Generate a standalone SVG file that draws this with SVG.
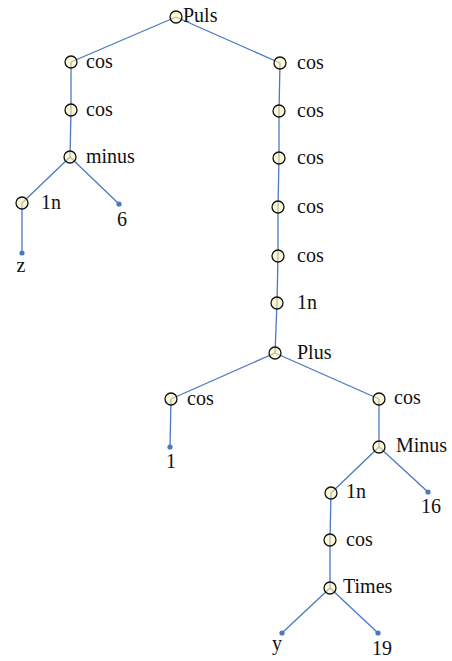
<svg xmlns="http://www.w3.org/2000/svg" width="452" height="661" viewBox="0 0 452 661">
<style>
  .edge { stroke: #4a78c2; stroke-width: 1.3; fill: none; }
  .op { fill: #fff3b0; fill-opacity: 0.55; stroke: #111; stroke-width: 1.3; }
  .leaf { fill: #4a78c2; }
  text { font-family: "Liberation Serif", "Times New Roman", serif; font-size: 20px; fill: #111; }
  .mid { text-anchor: middle; }
</style>
<rect width="452" height="661" fill="#fff"/>
<g id="connectors">
  <line class="edge" x1="176" y1="17" x2="71" y2="62"/>
  <line class="edge" x1="176" y1="17" x2="280" y2="63"/>
  <line class="edge" x1="71" y1="62" x2="71" y2="110"/>
  <line class="edge" x1="71" y1="110" x2="70" y2="157"/>
  <line class="edge" x1="70" y1="157" x2="22" y2="203"/>
  <line class="edge" x1="70" y1="157" x2="119" y2="204"/>
  <line class="edge" x1="22" y1="203" x2="22" y2="253"/>
  <line class="edge" x1="280" y1="63" x2="279" y2="111"/>
  <line class="edge" x1="279" y1="111" x2="279" y2="158"/>
  <line class="edge" x1="279" y1="158" x2="278" y2="207"/>
  <line class="edge" x1="278" y1="207" x2="278" y2="256"/>
  <line class="edge" x1="278" y1="256" x2="277" y2="303"/>
  <line class="edge" x1="277" y1="303" x2="275" y2="353"/>
  <line class="edge" x1="275" y1="353" x2="171" y2="399"/>
  <line class="edge" x1="275" y1="353" x2="379" y2="399"/>
  <line class="edge" x1="171" y1="399" x2="170" y2="447"/>
  <line class="edge" x1="379" y1="399" x2="379" y2="447"/>
  <line class="edge" x1="379" y1="447" x2="331" y2="493"/>
  <line class="edge" x1="379" y1="447" x2="428" y2="492"/>
  <line class="edge" x1="331" y1="493" x2="330" y2="540"/>
  <line class="edge" x1="330" y1="540" x2="330" y2="588"/>
  <line class="edge" x1="330" y1="588" x2="282" y2="633"/>
  <line class="edge" x1="330" y1="588" x2="378" y2="633"/>
</g>
<g id="n-puls"><circle class="op" cx="176" cy="17" r="6"/><text x="183" y="22">Puls</text></g>
<g id="n-cos-l1"><circle class="op" cx="71" cy="62" r="6"/><text x="86" y="68">cos</text></g>
<g id="n-cos-l2"><circle class="op" cx="71" cy="110" r="6"/><text x="86" y="116">cos</text></g>
<g id="n-minus"><circle class="op" cx="70" cy="157" r="6"/><text x="86" y="163">minus</text></g>
<g id="n-ln-l"><circle class="op" cx="22" cy="203" r="6"/><text x="41" y="209">1n</text></g>
<g id="n-6"><circle class="leaf" cx="119" cy="204" r="2.6"/><text class="mid" x="122" y="226">6</text></g>
<g id="n-z"><circle class="leaf" cx="22" cy="253" r="2.6"/><text class="mid" x="21" y="272">z</text></g>
<g id="n-cos-r1"><circle class="op" cx="280" cy="63" r="6"/><text x="297" y="69">cos</text></g>
<g id="n-cos-r2"><circle class="op" cx="279" cy="111" r="6"/><text x="297" y="117">cos</text></g>
<g id="n-cos-r3"><circle class="op" cx="279" cy="158" r="6"/><text x="297" y="164">cos</text></g>
<g id="n-cos-r4"><circle class="op" cx="278" cy="207" r="6"/><text x="297" y="213">cos</text></g>
<g id="n-cos-r5"><circle class="op" cx="278" cy="256" r="6"/><text x="297" y="262">cos</text></g>
<g id="n-ln-r"><circle class="op" cx="277" cy="303" r="6"/><text x="297" y="309">1n</text></g>
<g id="n-plus"><circle class="op" cx="275" cy="353" r="6"/><text x="297" y="359">Plus</text></g>
<g id="n-cos-p1"><circle class="op" cx="171" cy="399" r="6"/><text x="187" y="405">cos</text></g>
<g id="n-1"><circle class="leaf" cx="170" cy="447" r="2.6"/><text class="mid" x="171" y="468">1</text></g>
<g id="n-cos-p2"><circle class="op" cx="379" cy="399" r="6"/><text x="394" y="404">cos</text></g>
<g id="n-Minus"><circle class="op" cx="379" cy="447" r="6"/><text x="396" y="452">Minus</text></g>
<g id="n-16"><circle class="leaf" cx="428" cy="492" r="2.6"/><text class="mid" x="431" y="513">16</text></g>
<g id="n-ln-m"><circle class="op" cx="331" cy="493" r="6"/><text x="346" y="498">1n</text></g>
<g id="n-cos-m"><circle class="op" cx="330" cy="540" r="6"/><text x="346" y="546">cos</text></g>
<g id="n-times"><circle class="op" cx="330" cy="588" r="6"/><text x="343" y="593">Times</text></g>
<g id="n-y"><circle class="leaf" cx="282" cy="633" r="2.6"/><text class="mid" x="277" y="650">y</text></g>
<g id="n-19"><circle class="leaf" cx="378" cy="633" r="2.6"/><text class="mid" x="382" y="655">19</text></g>
</svg>
